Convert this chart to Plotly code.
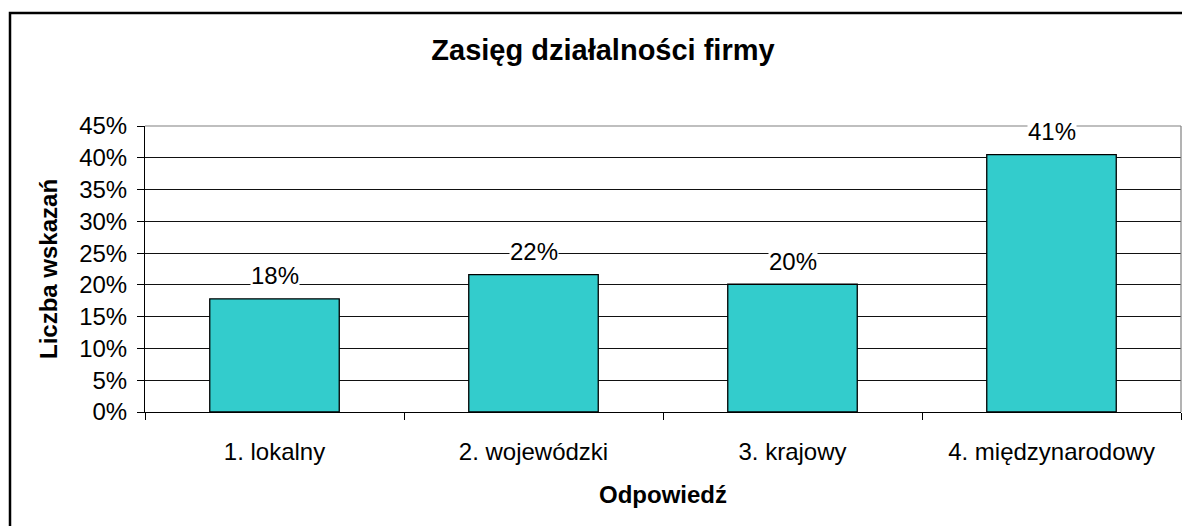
import plotly.graph_objects as go

categories = ["1. lokalny", "2. wojewódzki", "3. krajowy", "4. międzynarodowy"]
values = [17.8, 21.6, 20.1, 40.5]
y_ticks = [0, 5, 10, 15, 20, 25, 30, 35, 40, 45]
y_tick_labels = [f"{t}%" for t in y_ticks]
title_text = "Zasięg działalności firmy"
x_title = "Odpowiedź"
y_title = "Liczba wskazań"

W, H = 1182, 526
L, R, T, B = 145, 1181, 126, 412
pw, ph = R - L, B - T

def px_x(x):
    return (x - L) / pw

def px_y(y):
    return (B - y) / ph

FONT = "Liberation Sans, Arial, sans-serif"

fig = go.Figure()
fig.add_trace(go.Bar(
    x=categories, y=values,
    marker=dict(color="#33CCCC", line=dict(color="#000000", width=1.3)),
    hoverinfo="skip",
))

annotations = []
for c, v in zip(categories, values):
    annotations.append(dict(
        x=c, y=v, xref="x", yref="y", text=f"{int(v + 0.5)}%",
        showarrow=False, yanchor="middle", yshift=23,
        font=dict(family=FONT, size=24, color="#000000"),
        bgcolor="#FFFFFF", borderpad=0,
    ))
annotations.append(dict(
    x=px_x(48), y=0.5, xref="paper", yref="paper", text=f"<b>{y_title}</b>",
    showarrow=False, textangle=-90, xanchor="center", yanchor="middle",
    font=dict(family=FONT, size=24, color="#000000"),
))
annotations.append(dict(
    x=0.5, y=px_y(494), xref="paper", yref="paper", text=f"<b>{x_title}</b>",
    showarrow=False, xanchor="center", yanchor="middle",
    font=dict(family=FONT, size=24, color="#000000"),
))

shapes = [
    # outer chart border (extends beyond the visible image on right/bottom)
    dict(type="rect", xref="paper", yref="paper",
         x0=px_x(10), x1=px_x(1200), y0=px_y(540), y1=px_y(13),
         line=dict(color="#000000", width=2.5), layer="above"),
    # plot area frame top/right in grey
    dict(type="line", xref="paper", yref="paper", x0=0, x1=1, y0=1, y1=1,
         line=dict(color="#808080", width=1.2), layer="above"),
    dict(type="line", xref="paper", yref="paper", x0=1, x1=1, y0=0, y1=1,
         line=dict(color="#808080", width=1.2), layer="above"),
]

fig.update_layout(
    width=W, height=H,
    margin=dict(l=L, r=W - R, t=T, b=H - B, pad=0),
    paper_bgcolor="#FFFFFF", plot_bgcolor="#FFFFFF",
    bargap=0.5, showlegend=False,
    title=dict(text=f"<b>{title_text}</b>", x=603 / W, xref="container", xanchor="center",
               y=1 - 50 / H, yref="container", yanchor="middle",
               font=dict(family=FONT, size=29, color="#000000")),
    annotations=annotations, shapes=shapes,
    font=dict(family=FONT, size=24, color="#000000"),
)
fig.update_xaxes(
    type="category", showgrid=False, showline=True, linecolor="#000000", linewidth=1,
    ticks="outside", ticklen=7, tickcolor="#000000", tickson="boundaries",
    tickfont=dict(family=FONT, size=24, color="#000000"), ticklabelstandoff=18,
    zeroline=False, fixedrange=True,
)
fig.update_yaxes(
    range=[0, 45], tickvals=y_ticks, ticktext=y_tick_labels,
    showgrid=True, gridcolor="#111111", gridwidth=1,
    showline=True, linecolor="#000000", linewidth=1,
    ticks="outside", ticklen=7, tickcolor="#000000",
    tickfont=dict(family=FONT, size=24, color="#000000"), ticklabelstandoff=5,
    zeroline=False, fixedrange=True,
)

fig.write_html(
    "out.html",
    config={"displayModeBar": False},
    post_script="document.body.style.margin='0';document.body.style.overflow='hidden';",
)
